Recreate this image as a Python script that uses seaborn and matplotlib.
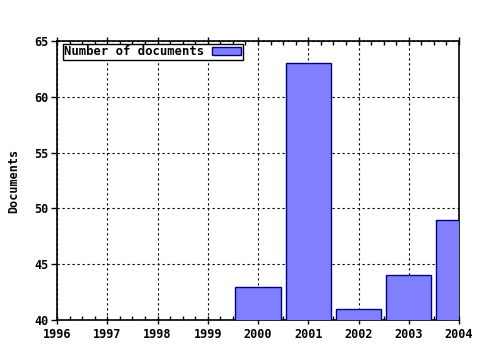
import matplotlib
matplotlib.use("Agg")
import matplotlib.pyplot as plt
import seaborn as sns
import pandas as pd
from matplotlib.ticker import MultipleLocator

years = [2000, 2001, 2002, 2003, 2004]
documents = [43, 63, 41, 44, 49]
series_label = "Number of documents"
y_label = "Documents"
x_ticks = [1996, 1997, 1998, 1999, 2000, 2001, 2002, 2003, 2004]
y_ticks = [40, 45, 50, 55, 60, 65]

sns.set_style("white")
plt.rcParams['font.family'] = ['DejaVu Sans Mono']
plt.rcParams['font.weight'] = 'bold'
plt.rcParams['text.color'] = 'black'
plt.rcParams['axes.labelcolor'] = 'black'
plt.rcParams['xtick.color'] = 'black'
plt.rcParams['ytick.color'] = 'black'

df = pd.DataFrame({"year": years, "docs": documents})

fig = plt.figure(figsize=(4.8, 3.5), dpi=100)
ax = fig.add_axes([57/480, 1-320/350, (459-57)/480, (320-41)/350])

sns.barplot(data=df, x="year", y="docs", native_scale=True, width=0.9,
            color="#8080ff", saturation=1, edgecolor="#000080", linewidth=1,
            label=series_label, ax=ax, zorder=3)

ax.set_xlim(1996, 2004)
ax.set_ylim(40, 65)
ax.set_xticks(x_ticks)
ax.set_xticklabels([str(t) for t in x_ticks])
ax.set_yticks(y_ticks)
ax.xaxis.set_minor_locator(MultipleLocator(0.25))
ax.set_xlabel("")
ax.set_ylabel(y_label, fontsize=8.5, fontweight='bold', labelpad=10, color='black')

ax.grid(True, which='major', color='black', linestyle=(0, (2, 2.5)), linewidth=0.8, zorder=1)
ax.set_axisbelow(True)

for s in ax.spines.values():
    s.set_visible(True)
    s.set_color('black')
    s.set_linewidth(1.2)

ax.tick_params(axis='x', which='major', direction='inout', length=6, width=1,
               top=True, bottom=True, labelsize=8.5, pad=3, colors='black')
ax.tick_params(axis='x', which='minor', direction='in', length=3, width=1,
               top=True, bottom=True)
ax.tick_params(axis='y', which='major', direction='out', length=4, width=1,
               left=True, right=False, labelsize=8.5, pad=2, colors='black')

for lab in ax.get_xticklabels() + ax.get_yticklabels():
    lab.set_fontweight('bold')

leg = ax.legend(loc='upper left', bbox_to_anchor=(0.015, 0.99), markerfirst=False,
                frameon=True, fancybox=False, prop={'size': 8.8, 'weight': 'bold'},
                handlelength=2.4, handleheight=0.6, borderpad=0.12,
                handletextpad=0.6, borderaxespad=0)
leg.get_frame().set_edgecolor('black')
leg.get_frame().set_linewidth(1)
leg.get_frame().set_alpha(1)
for t in leg.get_texts():
    t.set_color('black')

fig.savefig("out.png", dpi=100)
